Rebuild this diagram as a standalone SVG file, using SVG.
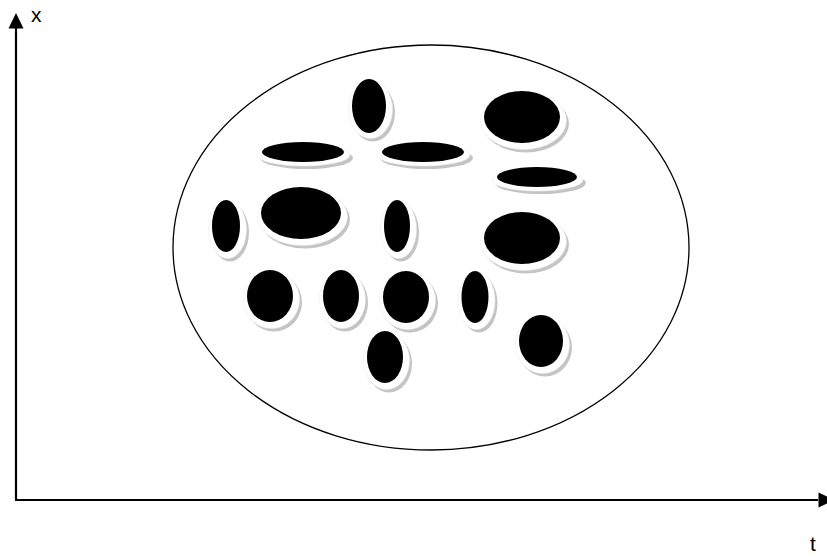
<svg xmlns="http://www.w3.org/2000/svg" width="827" height="558" viewBox="0 0 827 558">
<defs>
<style>
.lbl{font-family:"Liberation Sans",Arial,sans-serif;font-size:21px;fill:#000}
.ax{stroke:#000;stroke-width:2.2;fill:none}
.sh{fill:#c4c4c4}
.halo{fill:#fff;stroke:#ececec;stroke-width:0.6}
.blk{fill:#000}
</style>
<filter id="soft" x="-20%" y="-20%" width="140%" height="140%"><feGaussianBlur stdDeviation="0.7"/></filter>
</defs>
<rect width="827" height="558" fill="#fff"/>
<g id="axes">
<line class="ax" x1="16" y1="500" x2="16" y2="26"/>
<polygon points="16,13 8.5,28.5 23.5,28.5" fill="#000"/>
<line class="ax" x1="15" y1="500" x2="818" y2="500"/>
<polygon points="834,500 818.5,492.5 818.5,507.5" fill="#000"/>
<text class="lbl" x="31" y="22">x</text>
<text class="lbl" x="810" y="551">t</text>
</g>
<g id="boundary">
<ellipse cx="431" cy="247.5" rx="258" ry="202.5" fill="none" stroke="#000" stroke-width="1.3"/>
</g>
<g id="blobs">
<g id="b1" transform="translate(369,106)"><ellipse class="sh" filter="url(#soft)" cx="4" cy="6.5" rx="22" ry="29"/><ellipse class="halo" cx="1.5" cy="3.5" rx="22" ry="29"/><ellipse class="blk" rx="17" ry="27"/></g>
<g id="b2" transform="translate(303,152)"><ellipse class="sh" filter="url(#soft)" cx="3.5" cy="6" rx="46.5" ry="11"/><ellipse class="halo" cx="0.5" cy="3" rx="46.5" ry="11"/><ellipse class="blk" rx="41" ry="10"/></g>
<g id="b3" transform="translate(423,152)"><ellipse class="sh" filter="url(#soft)" cx="3.5" cy="6" rx="46.5" ry="11"/><ellipse class="halo" cx="0.5" cy="3" rx="46.5" ry="11"/><ellipse class="blk" rx="41" ry="10"/></g>
<g id="b4" transform="translate(522,117)"><ellipse class="sh" filter="url(#soft)" cx="4" cy="6.5" rx="43" ry="29"/><ellipse class="halo" cx="1.5" cy="3.5" rx="43" ry="29"/><ellipse class="blk" rx="38" ry="26"/></g>
<g id="b5" transform="translate(537,177)"><ellipse class="sh" filter="url(#soft)" cx="3.5" cy="6" rx="45.5" ry="11"/><ellipse class="halo" cx="0.5" cy="3" rx="45.5" ry="11"/><ellipse class="blk" rx="40" ry="10"/></g>
<g id="b6" transform="translate(226,226)"><ellipse class="sh" filter="url(#soft)" cx="4" cy="6.5" rx="19" ry="29"/><ellipse class="halo" cx="1.5" cy="3.5" rx="19" ry="29"/><ellipse class="blk" rx="14" ry="26"/></g>
<g id="b7" transform="translate(301,213)"><ellipse class="sh" filter="url(#soft)" cx="4" cy="6.5" rx="45" ry="29"/><ellipse class="halo" cx="1.5" cy="3.5" rx="45" ry="29"/><ellipse class="blk" rx="40" ry="26"/></g>
<g id="b8" transform="translate(397,226)"><ellipse class="sh" filter="url(#soft)" cx="4" cy="6.5" rx="18" ry="29"/><ellipse class="halo" cx="1.5" cy="3.5" rx="18" ry="29"/><ellipse class="blk" rx="13" ry="26"/></g>
<g id="b9" transform="translate(522,238)"><ellipse class="sh" filter="url(#soft)" cx="4" cy="6.5" rx="43" ry="29"/><ellipse class="halo" cx="1.5" cy="3.5" rx="43" ry="29"/><ellipse class="blk" rx="38" ry="26"/></g>
<g id="b10" transform="translate(270,296)"><ellipse class="sh" filter="url(#soft)" cx="4" cy="6.5" rx="28" ry="29"/><ellipse class="halo" cx="1.5" cy="3.5" rx="28" ry="29"/><ellipse class="blk" rx="23" ry="26"/></g>
<g id="b11" transform="translate(341,296)"><ellipse class="sh" filter="url(#soft)" cx="4" cy="6.5" rx="23" ry="29"/><ellipse class="halo" cx="1.5" cy="3.5" rx="23" ry="29"/><ellipse class="blk" rx="18" ry="26"/></g>
<g id="b12" transform="translate(406,297)"><ellipse class="sh" filter="url(#soft)" cx="4" cy="6.5" rx="28" ry="29"/><ellipse class="halo" cx="1.5" cy="3.5" rx="28" ry="29"/><ellipse class="blk" rx="23" ry="26"/></g>
<g id="b13" transform="translate(475,297)"><ellipse class="sh" filter="url(#soft)" cx="4" cy="6.5" rx="18.5" ry="29"/><ellipse class="halo" cx="1.5" cy="3.5" rx="18.5" ry="29"/><ellipse class="blk" rx="13.5" ry="26"/></g>
<g id="b14" transform="translate(385,357)"><ellipse class="sh" filter="url(#soft)" cx="4" cy="6.5" rx="23" ry="29"/><ellipse class="halo" cx="1.5" cy="3.5" rx="23" ry="29"/><ellipse class="blk" rx="18" ry="26"/></g>
<g id="b15" transform="translate(541,341)"><ellipse class="sh" filter="url(#soft)" cx="4" cy="6.5" rx="27" ry="29"/><ellipse class="halo" cx="1.5" cy="3.5" rx="27" ry="29"/><ellipse class="blk" rx="22" ry="26"/></g>
</g>
</svg>
